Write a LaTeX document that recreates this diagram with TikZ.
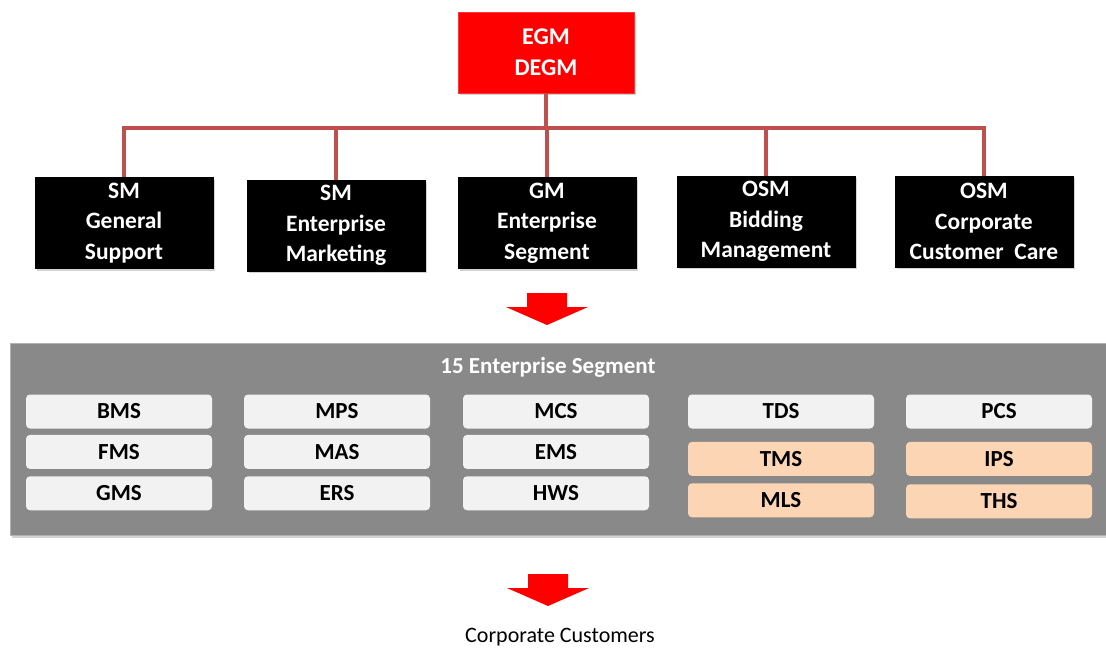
\documentclass[tikz,border=0pt]{standalone}
\usepackage{fontspec}
\setmainfont{Carlito}
\usetikzlibrary{shapes, shadows, positioning}
\definecolor{egmred}{RGB}{255,0,0}
\definecolor{busred}{RGB}{190,80,78}
\definecolor{panelgray}{RGB}{137,137,137}
\definecolor{unitgray}{RGB}{242,242,242}
\definecolor{unitpeach}{RGB}{251,213,180}
\tikzstyle{head}=[rectangle, align=center, drop shadow={shadow xshift=2pt, shadow yshift=-2pt, opacity=0.35}, fill=egmred, draw=red!80!white, text=white, font=\bfseries\fontsize{24}{31}\selectfont, minimum width=176pt, minimum height=81pt]
\tikzstyle{dept}=[rectangle, align=center, drop shadow={shadow xshift=2pt, shadow yshift=-2pt, opacity=0.35}, fill=black, draw=black, text=white, font=\bfseries\fontsize{23.5}{30.5}\selectfont, minimum width=178pt, minimum height=91pt]
\tikzstyle{panel}=[rectangle, drop shadow={shadow xshift=2pt, shadow yshift=-3pt, opacity=0.35}, fill=panelgray, draw=gray!60, minimum width=1110pt, minimum height=192pt]
\tikzstyle{unit}=[rectangle, rounded corners=4pt, fill=unitgray, draw=none, font=\bfseries\fontsize{23}{27}\selectfont, minimum width=186pt, minimum height=34pt, inner sep=0pt]
\tikzstyle{unitnew}=[unit, fill=unitpeach]
\tikzstyle{bus}=[line width=3.5pt, draw=busred]
\newcommand{\flow}[2]{\fill[egmred] (#1-20,#2) -- (#1+20,#2) -- (#1+20,#2+14) -- (#1+41,#2+14) -- (#1,#2+32) -- (#1-41,#2+14) -- (#1-20,#2+14) -- cycle;}

\begin{document}
\begin{tikzpicture}[x=1pt, y=-1pt]
    \useasboundingbox (0,0) rectangle (1106,648);

    \node [head] (egm) at (546,52.5) {EGM\\DEGM};

    \node [dept] (smgs) at (124,223) {SM\\General\\Support};
    \node [dept] (smem) at (336,225.5) {SM\\Enterprise\\Marketing};
    \node [dept] (gmes) at (547,223) {GM\\Enterprise\\Segment};
    \node [dept] (osmbm) at (766,221.5) {OSM\\Bidding\\Management};
    \node [dept] (osmcc) at (984,221.5) {OSM\\Corporate\\Customer~~Care};

    \coordinate (bus) at (546,128);
    \draw [bus] (egm.south) -- (egm.south |- bus);
    \draw [bus] (smgs.north) |- (osmcc.north |- bus) -- (osmcc.north);
    \draw [bus] (smem.north) -- (smem.north |- bus);
    \draw [bus] (gmes.north) -- (gmes.north |- bus);
    \draw [bus] (osmbm.north) -- (osmbm.north |- bus);

    \flow{547}{293}

    \node [panel] (seg) at (565,439) {};
    \node [text=white, font=\bfseries\fontsize{23}{27}\selectfont] (segtitle) at (548,367) {15 Enterprise Segment};

    \node [unit] (bms) at (119,411.5) {BMS};
    \node [unit, below = 6pt of bms] (fms) {FMS};
    \node [unit, below = 7pt of fms] (gms) {GMS};

    \node [unit] (mps) at (337,411.5) {MPS};
    \node [unit, below = 6pt of mps] (mas) {MAS};
    \node [unit, below = 7pt of mas] (ers) {ERS};

    \node [unit] (mcs) at (556,411.5) {MCS};
    \node [unit, below = 6pt of mcs] (ems) {EMS};
    \node [unit, below = 7pt of ems] (hws) {HWS};

    \node [unit] (tds) at (781,411.5) {TDS};
    \node [unitnew, below = 13pt of tds] (tms) {TMS};
    \node [unitnew, below = 7pt of tms] (mls) {MLS};

    \node [unit] (pcs) at (999,411.5) {PCS};
    \node [unitnew, below = 13pt of pcs] (ips) {IPS};
    \node [unitnew, below = 8pt of ips] (ths) {THS};

    \flow{548}{574}

    \node [font=\fontsize{22}{26}\selectfont] (cust) at (560,637) {Corporate Customers};
  \end{tikzpicture}
\end{document}
